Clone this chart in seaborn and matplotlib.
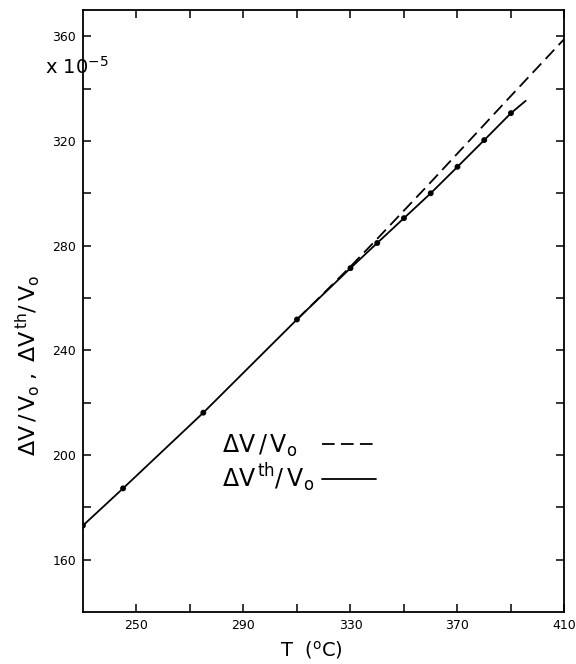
import numpy as np
import pandas as pd
import seaborn as sns
import matplotlib
matplotlib.use("Agg")
import matplotlib.pyplot as plt
from matplotlib.ticker import FixedLocator

# values (units of 1e-5)
T_th = [230, 245, 275, 310, 330, 340, 350, 360, 370, 380, 390, 395.5]
dv_th = [173.1, 187.3, 216.2, 251.8, 271.4, 281.0, 290.5, 300.0, 310.1, 320.3, 330.6, 335.3]
T_tot = [310, 320, 330, 340, 350, 360, 370, 380, 390, 400, 410]
dv_tot = [251.8, 261.8, 272.0, 282.6, 293.4, 304.2, 315.2, 326.2, 337.2, 348.1, 359.0]
# the last thermal point is only the end of the drawn line, no dot
dots_T = T_th[:-1]
dots_v = dv_th[:-1]

xticks = [250, 290, 330, 370, 410]
xminor = [270, 310, 350, 390]
yticks = [160, 200, 240, 280, 320, 360]
yminor = [180, 220, 260, 300, 340]

sns.set_style("ticks")
plt.rcParams['font.family'] = ['DejaVu Sans']
plt.rcParams['mathtext.default'] = 'regular'
for k in ['text.color', 'axes.labelcolor', 'xtick.color', 'ytick.color']:
    plt.rcParams[k] = 'black'

fig = plt.figure(figsize=(5.76, 6.64), dpi=100)
ax = fig.add_axes([0.144, 0.078, 0.836, 0.907])

sns.lineplot(x=T_tot, y=dv_tot, ax=ax, color='black', lw=1.3,
             linestyle=(0, (7, 3.5)), label=r'$\Delta V\,/\,V_o$')
sns.lineplot(x=T_th, y=dv_th, ax=ax, color='black', lw=1.3,
             label=r'$\Delta V^{\,th}/\,V_o$')
sns.scatterplot(x=dots_T, y=dots_v, ax=ax, color='black', s=18,
                edgecolor='none', zorder=5)

ax.set_xlim(230, 410)
ax.set_ylim(140, 370)
ax.xaxis.set_major_locator(FixedLocator(xticks))
ax.xaxis.set_minor_locator(FixedLocator(xminor))
ax.yaxis.set_major_locator(FixedLocator(yticks))
ax.yaxis.set_minor_locator(FixedLocator(yminor))
ax.tick_params(which='both', direction='in', length=6, width=1.1,
               top=True, right=True, labelsize=9, pad=5)
for s in ax.spines.values():
    s.set_linewidth(1.3)
    s.set_color('black')

ax.set_xlabel(r'T  ($^o$C)', fontsize=14)
ax.xaxis.set_label_coords(0.475, -0.045)
ax.set_ylabel(r'$\Delta V\,/\,V_o\;,\;\Delta V^{\,th}/\,V_o$', fontsize=16)
ax.yaxis.set_label_coords(-0.085, 0.41)

fig.text(45 / 576, 1 - 78 / 664, r'x $10^{-5}$', fontsize=14, va='bottom')

leg = ax.legend(loc='upper left', bbox_to_anchor=(0.265, 0.318), frameon=False,
                markerfirst=False, fontsize=17, handlelength=2.3,
                handletextpad=0.3, labelspacing=0.1, borderpad=0)

# labels sit left-aligned like a small table: widen the gap on the short row
fig.canvas.draw()
rend = fig.canvas.get_renderer()
t1, t2 = leg.get_texts()
extra = t2.get_window_extent(rend).width - t1.get_window_extent(rend).width
row1 = leg._legend_handle_box.get_children()[0].get_children()[0]
row1.sep += extra * 72 / fig.dpi

fig.savefig("out.png", dpi=100)
